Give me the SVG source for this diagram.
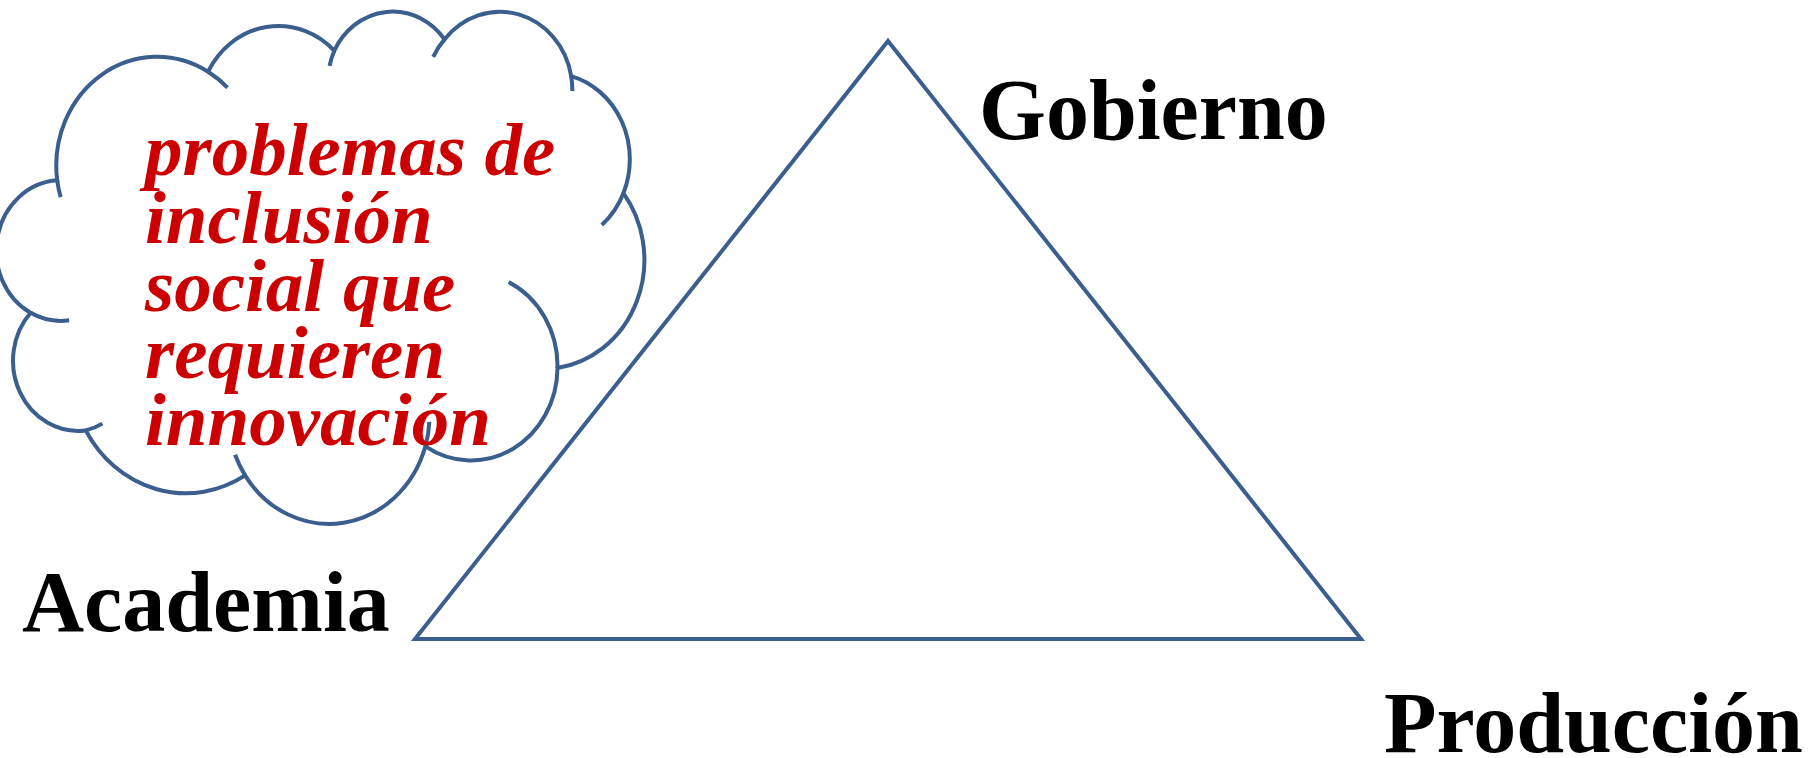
<svg xmlns="http://www.w3.org/2000/svg" width="1818" height="758" viewBox="0 0 1818 758">
<style>
.ln{fill:none;stroke:#3A5F8E;stroke-width:4;stroke-linejoin:miter;stroke-linecap:butt}
.lbl{font-family:"Liberation Serif","Times New Roman",serif;font-weight:bold;font-size:86px;fill:#000}
.ct{font-family:"Liberation Serif","Times New Roman",serif;font-weight:bold;font-style:italic;font-size:75px;fill:#CC0000}
</style>
<rect width="1818" height="758" fill="#fff"/>
<g id="cloud">
<path class="ln" style="fill:#fff" d="M57.2 180.3 A100.83 108.92 0 0 1 208.1 71.7 A79.63 86.13 0 0 1 334.3 50.7 A65.17 70.46 0 0 1 444.5 39.4 A72.52 78.16 0 0 1 571.2 76.1 A79.63 86.20 0 0 1 623.4 193.2 A101.15 109.27 0 0 1 557.5 368.0 A86.37 93.24 0 0 1 425.4 446.3 A100.81 109.21 0 0 1 245.1 475.4 A115.26 124.96 0 0 1 85.7 430.4 A65.10 70.14 0 0 1 30.6 312.8 A64.87 70.46 0 0 1 57.2 180.3 Z"/>
<path class="ln" d="M69.1 320.3 A64.87 70.46 0 0 1 30.6 312.8 M102.4 423.6 A65.10 70.14 0 0 1 85.7 430.4 M245.1 475.4 A100.81 109.21 0 0 1 235.1 454.7 M429.4 421.9 A100.81 109.21 0 0 1 425.4 446.3 M508.6 282.0 A86.37 93.24 0 0 1 557.5 368.0 M623.4 193.2 A79.63 86.20 0 0 1 601.8 225.0 M571.2 76.1 A72.52 78.16 0 0 1 572.3 91.1 M433.2 56.8 A72.52 78.16 0 0 1 444.5 39.4 M329.6 65.9 A65.17 70.46 0 0 1 334.3 50.7 M208.1 71.7 A100.83 108.92 0 0 1 227.5 87.7 M60.6 197.1 A100.83 108.92 0 0 1 57.2 180.3"/>
<text class="ct" x="145" y="175">problemas de</text>
<text class="ct" x="145" y="243">inclusión</text>
<text class="ct" x="145" y="311">social que</text>
<text class="ct" x="145" y="378">requieren</text>
<text class="ct" x="145" y="445">innovación</text>
</g>
<g id="connectors">
<path class="ln" d="M888 41 L1361 639 L415 639 Z"/>
</g>
<g id="gobierno"><text class="lbl" x="979" y="139">Gobierno</text></g>
<g id="academia"><text class="lbl" x="22" y="631">Academia</text></g>
<g id="produccion"><text class="lbl" x="1384" y="752">Producción</text></g>
</svg>
